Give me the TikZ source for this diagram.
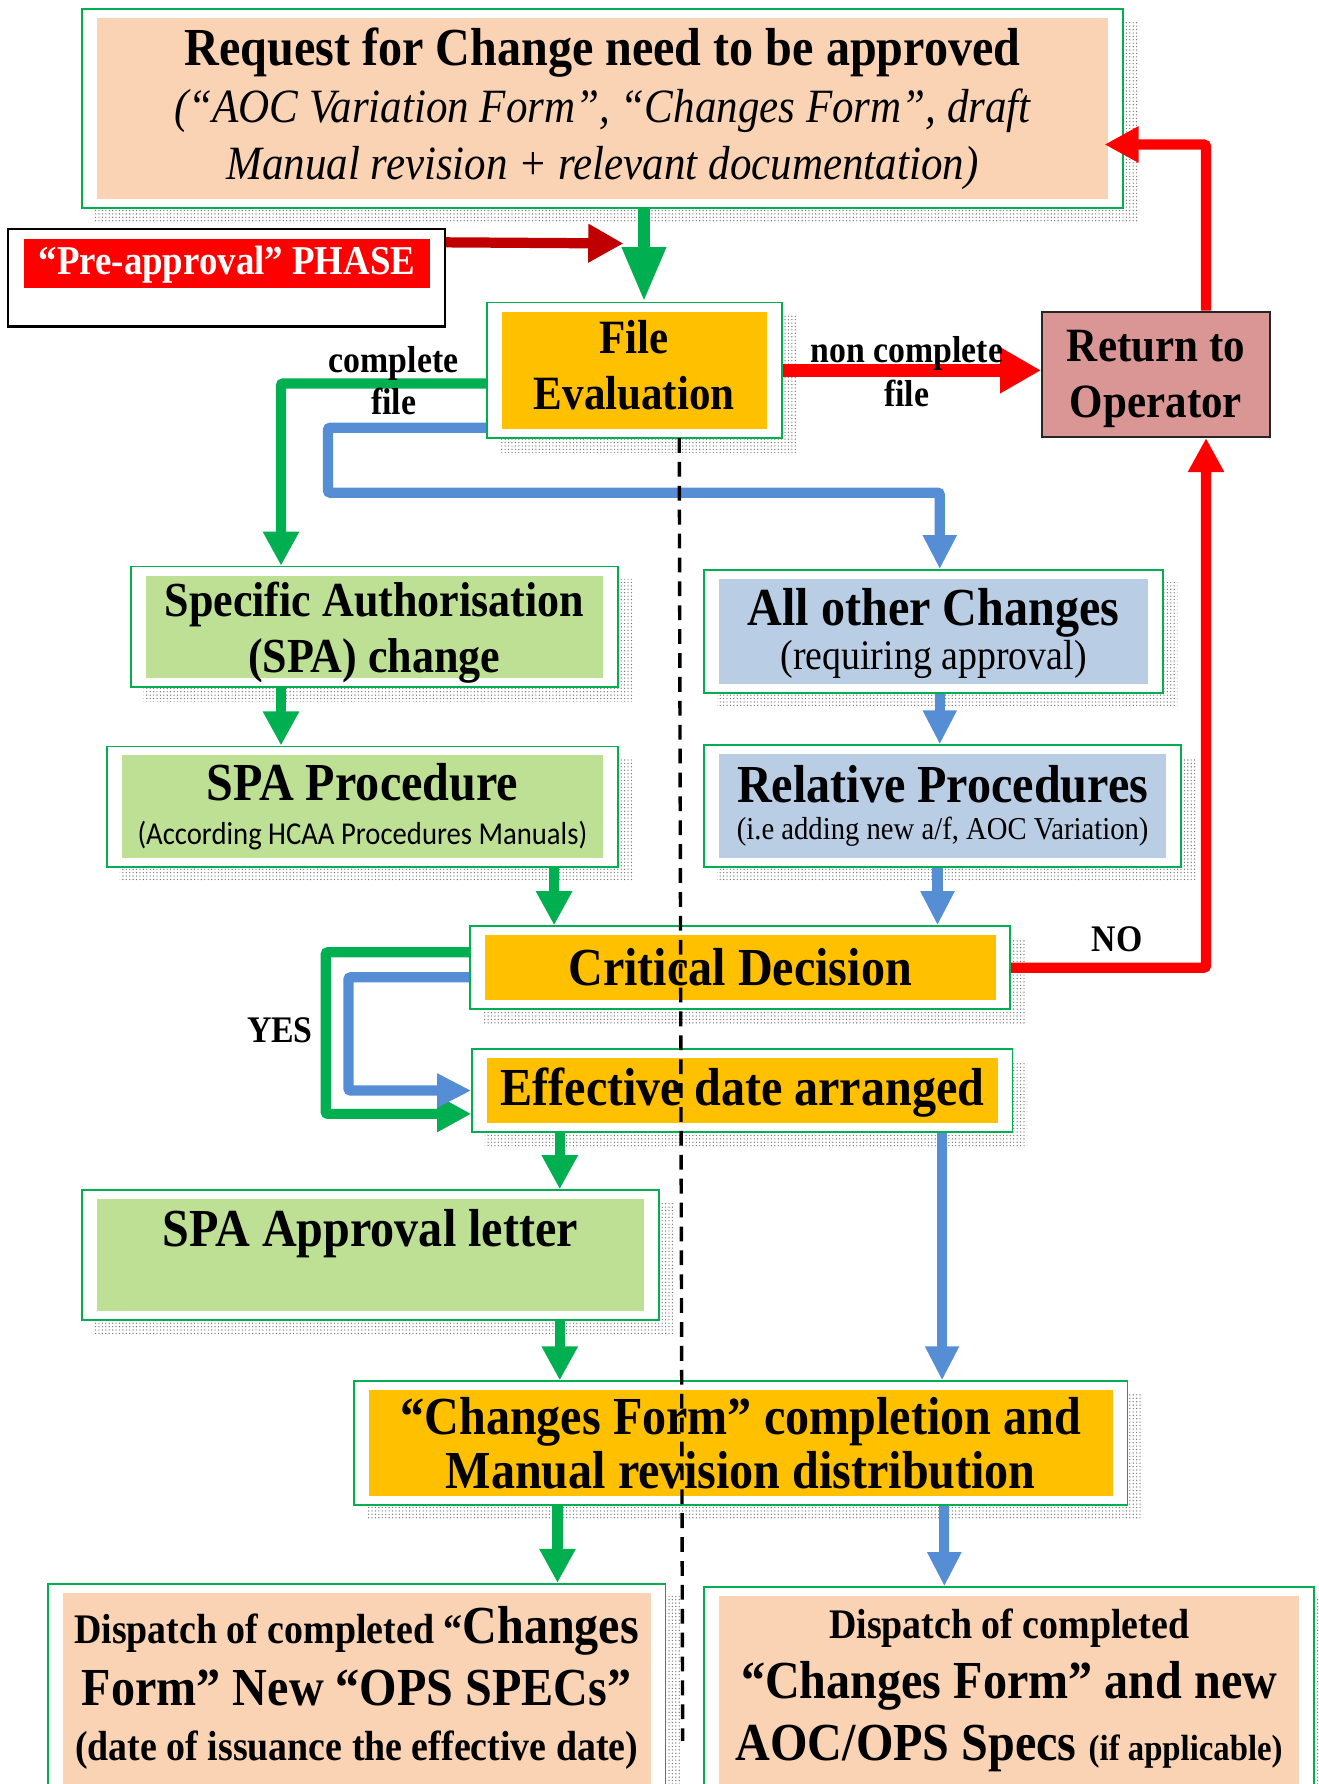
\documentclass[tikz,border=0pt]{standalone}
\usepackage{fontspec}
\setmainfont{Liberation Serif}[FakeStretch=0.9]
\newfontfamily\calibfont{Carlito}[FakeStretch=0.9]
\usetikzlibrary{arrows.meta,patterns.meta}

\definecolor{boxgreen}{RGB}{0,176,80}
\definecolor{peach}{RGB}{250,211,180}
\definecolor{amber}{RGB}{255,192,0}
\definecolor{leaf}{RGB}{190,224,148}
\definecolor{steel}{RGB}{185,205,229}
\definecolor{rose}{RGB}{218,150,148}
\definecolor{flowblue}{RGB}{85,142,213}
\definecolor{flowgreen}{RGB}{0,176,80}
\definecolor{flowred}{RGB}{255,0,0}
\definecolor{darkred}{RGB}{192,0,0}

\newcommand\setfs[2]{\fontsize{#1pt}{#2pt}\selectfont}

\pgfdeclarelayer{back}
\pgfsetlayers{back,main}

\tikzset{
  panel/.style={draw=boxgreen, line width=1.5pt, fill=white, inner sep=0pt, align=center,
    path picture={\fill[#1] ([shift={(13pt,8pt)}]path picture bounding box.south west)
      rectangle ([shift={(-13pt,-8pt)}]path picture bounding box.north east);}},
  flow/.style={line width=9pt, rounded corners=2pt},
  garrow/.style={flow, draw=flowgreen, -{Triangle[width=30pt,length=30pt]}},
  barrow/.style={flow, draw=flowblue, -{Triangle[width=28pt,length=30pt]}},
  rarrow/.style={flow, draw=flowred, -{Triangle[width=30pt,length=30pt]}},
  lbl/.style={font=\setfs{33}{38}\bfseries, inner sep=0pt},
  dotshade/.style={pattern={Dots[distance=3pt,radius=0.6pt]}, pattern color=black!55},
  divider/.style={draw=black, line width=3pt, dash pattern=on 13pt off 8pt}
}

\begin{document}
\begin{tikzpicture}[x=1pt, y=-1pt]
\useasboundingbox (0,0) rectangle (1159,1568);
\clip (0,0) rectangle (1159,1568);

% ---------- boxes ----------
\node[panel=peach, minimum width=915pt, minimum height=175pt, font=\setfs{47}{50}] (top) at (529.5,95.5)
  {{\bfseries Request for Change need to be approved}\\
   {\setfs{42}{50}\itshape (“AOC Variation Form”, “Changes Form”, draft}\\
   {\setfs{42}{50}\itshape Manual revision + relevant documentation)}};

\node[draw=black, line width=2pt, fill=white, minimum width=384pt, minimum height=86pt, inner sep=0pt] (pre) at (199,244) {};
\node[fill=red, text=white, font=\setfs{36}{40}\bfseries, minimum width=357pt, minimum height=43pt, inner sep=0pt]
  (prelabel) at (199.5,231.5) {\rule{0pt}{28pt}“Pre-approval” PHASE};

\node[panel=amber, minimum width=259pt, minimum height=119pt, font=\setfs{42}{49}\bfseries] (fileeval) at (557.5,325.5)
  {File\\Evaluation\rule[-9pt]{0pt}{0pt}};

\node[draw=black!85, line width=2pt, fill=rose, minimum width=200pt, minimum height=110pt, align=center,
  font=\setfs{42}{49}\bfseries, inner sep=0pt] (ret) at (1016,329) {\rule{0pt}{36pt}Return to\\Operator};

\node[panel=leaf, minimum width=428pt, minimum height=106pt, font=\setfs{43}{49}\bfseries] (spa) at (329,551)
  {\rule{0pt}{41pt}Specific Authorisation\\(SPA) change};

\node[panel=leaf, minimum width=449pt, minimum height=106pt, font=\setfs{47}{39}] (spaproc) at (318.5,709)
  {{\bfseries SPA Procedure}\\{\calibfont\setfs{28}{39}(According HCAA Procedures Manuals)}};

\node[panel=steel, minimum width=403pt, minimum height=108pt, font=\setfs{47}{39}] (allother) at (820.5,555)
  {\rule{0pt}{36pt}{\bfseries All other Changes}\\{\setfs{37}{39}(requiring approval)}};

\node[panel=steel, minimum width=419pt, minimum height=107pt, font=\setfs{47}{33}] (relproc) at (828.5,708.5)
  {{\bfseries Relative Procedures}\\{\setfs{28}{33}(i.e adding new a/f, AOC Variation)}};

\node[panel=amber, minimum width=475pt, minimum height=73pt, font=\setfs{47}{50}\bfseries] (crit) at (650.5,850.5)
  {Critical Decision};

\node[panel=amber, minimum width=475pt, minimum height=73pt, font=\setfs{47}{50}\bfseries] (eff) at (652.5,958.5)
  {\rule{0pt}{37pt}Effective date arranged};

\node[panel=leaf, minimum width=507pt, minimum height=114pt, font=\setfs{47}{50}\bfseries] (spaappr) at (325.5,1103)
  {SPA Approval letter\rule[-48pt]{0pt}{0pt}};

\node[panel=amber, minimum width=680pt, minimum height=109pt, font=\setfs{47}{47}\bfseries] (chform) at (651,1268.5)
  {“Changes Form” completion and\\Manual revision distribution};

\node[panel=peach, minimum width=543pt, minimum height=192pt, font=\setfs{47}{50}\bfseries] (displeft) at (313.5,1488)
  {{\setfs{37}{50}Dispatch of completed “}Changes\\[5pt]
   Form” New “OPS SPECs”\\[-2pt]
   {\setfs{37}{50}(date of issuance the effective date)}\rule[-17pt]{0pt}{0pt}};

\node[panel=peach, minimum width=536pt, minimum height=189pt, font=\setfs{47}{52}\bfseries] (dispright) at (887,1489.5)
  {{\setfs{37}{52}Dispatch of completed}\\
   “Changes Form” and new\\[3pt]
   AOC/OPS Specs {\setfs{32}{52}(if applicable)}\rule[-17pt]{0pt}{0pt}};

% ---------- white page and dotted drop shadows, behind everything ----------
\begin{pgfonlayer}{back}
  \fill[white] (0,0) rectangle (1159,1568);
  \foreach \b in {top,fileeval,spa,spaproc,allother,relproc,crit,eff,spaappr,chform,displeft,dispright}
    \fill[dotshade] ([shift={(12pt,-12pt)}]\b.north west) rectangle ([shift={(12pt,-12pt)}]\b.south east);
\end{pgfonlayer}

% ---------- anchor points for connectors ----------
\coordinate (fetop)   at ([xshift=8.5pt]fileeval.north);
\coordinate (pretip)  at (548,214);
\coordinate (spain)   at ([xshift=-82pt]spa.north);
\coordinate (aoin)    at ([xshift=5.5pt]allother.north);
\coordinate (rpout)   at ([xshift=-4.5pt]relproc.south);
\coordinate (spout)   at ([xshift=168.5pt]spaproc.south);
\coordinate (retup)   at ([xshift=44pt]ret.north);
\coordinate (retdn)   at ([xshift=44pt]ret.south);
\coordinate (topin)   at ([shift={(-17pt,-31.5pt)}]top.east);
\coordinate (effl)    at ([xshift=-160.5pt]eff.south);
\coordinate (effr)    at ([xshift=175.5pt]eff.south);
\coordinate (chl)     at ([xshift=-161pt]chform.south);
\coordinate (chr)     at ([xshift=179pt]chform.south);
\coordinate (dtop)    at (597,385);
\coordinate (dbot)    at (600,1530);

% ---------- connectors ----------
\draw[flow, draw=flowgreen, line width=11pt, -{Triangle[width=36pt,length=48pt]}] (top.south -| fetop) -- (fetop);
\draw[flow, draw=darkred, -{Triangle[width=32pt,length=31pt]}] ([yshift=-13pt]pre.north east) -- (pretip);

\draw[garrow] ([yshift=-11.5pt]fileeval.west) -| (spain);
\draw[barrow] ([yshift=-50.5pt]fileeval.west) -| ++(-139,57) -| (aoin);

\draw[flow, draw=flowred, line width=12pt, -{Triangle[width=38pt,length=36pt]}] (fileeval.east) -- (fileeval.east -| ret.west);
\draw[rarrow] (retup) |- (topin);
\draw[rarrow] (crit.east) -| (retdn);

\draw[garrow] (spa.south -| spain) -- (spaproc.north -| spain);
\draw[garrow] (spout) -- (crit.north -| spout);
\draw[barrow] (allother.south -| aoin) -- (relproc.north -| aoin);
\draw[barrow] (rpout) -- (crit.north -| rpout);

\draw[garrow] ([yshift=13.5pt]crit.west) -- ++(-126,0) |- ([yshift=-20.5pt]eff.west);
\draw[barrow] ([yshift=-8.5pt]crit.west) -- ++(-106,0) |- (eff.west);

\draw[garrow] (effl) -- (spaappr.north -| effl);
\draw[barrow] (effr) -- (chform.north -| effr);
\draw[garrow] (spaappr.south -| effl) -- (chform.north -| effl);
\draw[garrow] (chl) -- (displeft.north -| chl);
\draw[barrow] (chr) -- (dispright.north -| chr);

% ---------- connector labels ----------
\node[lbl, anchor=base] (lcomplete) at (346,327) {complete};
\node[lbl, anchor=base] (lfile)     at (346,364) {file};
\node[lbl, anchor=base] (lnon)      at (797,319) {non complete};
\node[lbl, anchor=base] (lnonfile)  at (797,357) {file};
\node[lbl, anchor=base] (lno)       at (982,836) {NO};
\node[lbl, anchor=base] (lyes)      at (246,916) {YES};

% ---------- divider between the two streams ----------
\draw[divider] (dtop) -- (dbot);
\end{tikzpicture}
\end{document}
